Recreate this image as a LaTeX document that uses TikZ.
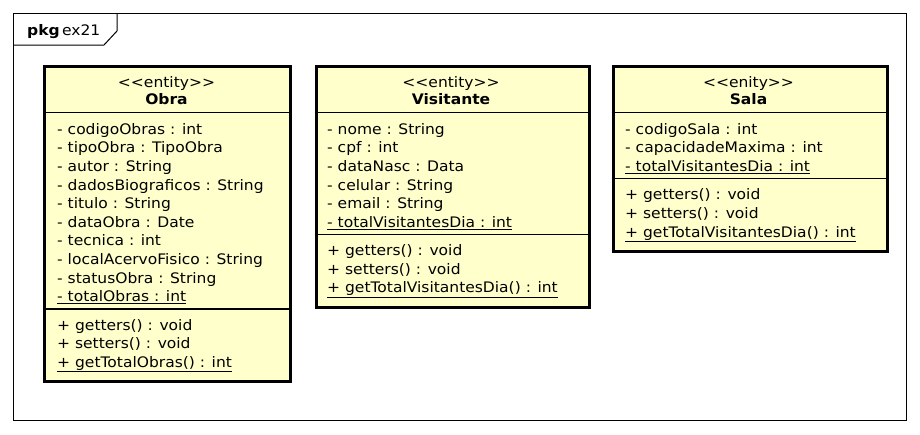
\documentclass[tikz,border=0pt]{standalone}
\usepackage{fontspec}
\setmainfont[FakeStretch=1.07]{DejaVu Sans}
\definecolor{classfill}{RGB}{255,255,204}
\tikzset{
  classbox/.style={draw, line width=3pt, fill=classfill, anchor=north west, inner sep=0pt},
  member/.style={anchor=base west, inner sep=0pt, font=\fontsize{14.5}{17}\selectfont},
  stereo/.style={anchor=base, inner sep=0pt, font=\fontsize{14.5}{17}\selectfont},
  classname/.style={anchor=base, inner sep=0pt, font=\fontsize{14.5}{17}\selectfont\bfseries},
  sepline/.style={line width=1.3pt},
}
\newcommand{\stereotype}[1]{{<}{<}#1{>}{>}}

\begin{document}
\begin{tikzpicture}[x=1pt, y=-1pt]
  \useasboundingbox (0,0) rectangle (920,434);
  % Package frame
  \draw[line width=1pt] (13,13) rectangle (906,420);
  \draw[line width=1pt] (13,45) -- (104,45) -- (117,31) -- (117,13);
  \node[anchor=base west, inner sep=0pt, font=\fontsize{14.5}{17}\selectfont] (pkg) at (27,35) {\textbf{pkg}\,ex21};

  % Obra
  \node[classbox, minimum width=246pt, minimum height=315pt] (obra) at (43,65) {};
  \node[stereo] (obra-st) at (166.5,87.3) {\stereotype{entity}};
  \node[classname] (obra-nm) at (166.5,104.3) {Obra};
  \draw[sepline] (obra.west |- 0,112.5) -- (obra.east |- 0,112.5);
  \node[member] (obra-a1) at (57,134.3) {- codigoObras : int};
  \node[member] (obra-a2) at (57,152.9) {- tipoObra : TipoObra};
  \node[member] (obra-a3) at (57,171.5) {- autor : String};
  \node[member] (obra-a4) at (57,190.1) {- dadosBiograficos : String};
  \node[member] (obra-a5) at (57,208.7) {- titulo : String};
  \node[member] (obra-a6) at (57,227.3) {- dataObra : Date};
  \node[member] (obra-a7) at (57,245.9) {- tecnica : int};
  \node[member] (obra-a8) at (57,264.5) {- localAcervoFisico : String};
  \node[member] (obra-a9) at (57,283.1) {- statusObra : String};
  \node[member] (obra-a10) at (57,301.7) {\underline{- totalObras : int}};
  \draw[sepline] (obra.west |- 0,309) -- (obra.east |- 0,309);
  \node[member] (obra-m1) at (57,330) {+ getters() : void};
  \node[member] (obra-m2) at (57,348.6) {+ setters() : void};
  \node[member] (obra-m3) at (57,367.2) {\underline{+ getTotalObras() : int}};

  % Visitante
  \node[classbox, minimum width=273pt, minimum height=240.5pt] (vis) at (314.5,65) {};
  \node[stereo] (vis-st) at (451,87.3) {\stereotype{entity}};
  \node[classname] (vis-nm) at (451,104.3) {Visitante};
  \draw[sepline] (vis.west |- 0,112.5) -- (vis.east |- 0,112.5);
  \node[member] (vis-a1) at (327,134.3) {- nome : String};
  \node[member] (vis-a2) at (327,152.9) {- cpf : int};
  \node[member] (vis-a3) at (327,171.5) {- dataNasc : Data};
  \node[member] (vis-a4) at (327,190.1) {- celular : String};
  \node[member] (vis-a5) at (327,208.7) {- email : String};
  \node[member] (vis-a6) at (327,227.3) {\underline{- totalVisitantesDia : int}};
  \draw[sepline] (vis.west |- 0,234.6) -- (vis.east |- 0,234.6);
  \node[member] (vis-m1) at (327,255.6) {+ getters() : void};
  \node[member] (vis-m2) at (327,274.2) {+ setters() : void};
  \node[member] (vis-m3) at (327,292.8) {\underline{+ getTotalVisitantesDia() : int}};

  % Sala
  \node[classbox, minimum width=274pt, minimum height=184.5pt] (sala) at (611.5,65) {};
  \node[stereo] (sala-st) at (748.5,87.3) {\stereotype{enity}};
  \node[classname] (sala-nm) at (748.5,104.3) {Sala};
  \draw[sepline] (sala.west |- 0,112.5) -- (sala.east |- 0,112.5);
  \node[member] (sala-a1) at (625,134.3) {- codigoSala : int};
  \node[member] (sala-a2) at (625,152.9) {- capacidadeMaxima : int};
  \node[member] (sala-a3) at (625,171.5) {\underline{- totalVisitantesDia : int}};
  \draw[sepline] (sala.west |- 0,178.8) -- (sala.east |- 0,178.8);
  \node[member] (sala-m1) at (625,199.8) {+ getters() : void};
  \node[member] (sala-m2) at (625,218.4) {+ setters() : void};
  \node[member] (sala-m3) at (625,237) {\underline{+ getTotalVisitantesDia() : int}};
\end{tikzpicture}
\end{document}
